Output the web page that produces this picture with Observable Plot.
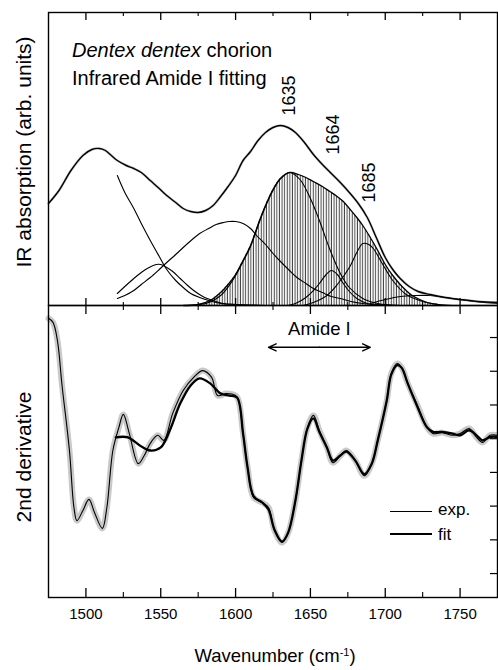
<!DOCTYPE html>
<html><head><meta charset="utf-8">
<script src="https://cdn.jsdelivr.net/npm/d3@7"></script>
<script src="https://cdn.jsdelivr.net/npm/@observablehq/plot@0.6"></script>
<style>
body{margin:0;background:#fff;}
#chart{position:relative;width:498px;height:670px;font-family:"Liberation Sans",Arial,Helvetica,sans-serif;color:#000;overflow:hidden;}
#top,#bottom{position:absolute;left:0;}
#top{top:0;}
#bottom{top:305px;}
.lbl{position:absolute;white-space:nowrap;line-height:1;}
.c{transform:translate(-50%,-50%);}
.legline{position:absolute;background:#000;}
</style></head><body>
<svg width="0" height="0" style="position:absolute">
<defs><pattern id="hatch" patternUnits="userSpaceOnUse" width="2.6" height="10"><line x1="1.2" y1="0" x2="1.2" y2="10" stroke="#333" stroke-width="0.9"/></pattern></defs></svg>
<div id="chart">
  <div id="top"></div>
  <div id="bottom"></div>
  <div class="lbl" style="left:72px;top:40px;font-size:20px;"><i>Dentex dentex</i> chorion</div>
  <div class="lbl" style="left:72px;top:68px;font-size:20px;">Infrared Amide I fitting</div>
  <div class="lbl" style="left:23px;top:152px;font-size:21px;transform:translate(-50%,-50%) rotate(-90deg);">IR absorption (arb. units)</div>
  <div class="lbl" style="left:23px;top:457px;font-size:21px;transform:translate(-50%,-50%) rotate(-90deg);">2nd derivative</div>
  <div class="lbl c" style="left:275px;top:656px;font-size:18.5px;">Wavenumber (cm<sup style="font-size:11px;vertical-align:0.55em;line-height:0">-1</sup>)</div>
  <div class="legline" style="left:390px;top:510.5px;width:42px;height:1.2px;"></div>
  <div class="legline" style="left:390px;top:533px;width:42px;height:2.4px;"></div>
  <div class="lbl" style="left:438px;top:501px;font-size:17px;">exp.</div>
  <div class="lbl" style="left:438px;top:525.5px;font-size:17px;">fit</div>
</div>
<script>
// ---- axis ticks ----
const wnMajor = [1500, 1550, 1600, 1650, 1700, 1750];
const wnMinor = [1525, 1575, 1625, 1675, 1725];
const derivTicks = [0, 1, 2, 3, 4, 5, 6, 7];

// ---- top panel: IR absorption (arb. units) ----
const absorptionExp = [[1475,1.02],[1482,1.15],[1490,1.35],[1498,1.50],[1504,1.56],[1509,1.57],[1513,1.55],[1517,1.50],[1521,1.45],[1527,1.40],[1532,1.37],[1537,1.33],[1543,1.25],[1549,1.17],[1554,1.10],[1560,1.03],[1565,0.97],[1570,0.94],[1575,0.93],[1580,0.95],[1585,1.00],[1590,1.09],[1595,1.19],[1600,1.30],[1605,1.45],[1610,1.54],[1615,1.65],[1620,1.73],[1625,1.78],[1630,1.80],[1635,1.78],[1640,1.73],[1646,1.63],[1652,1.51],[1658,1.41],[1664,1.32],[1670,1.23],[1676,1.13],[1682,1.02],[1688,0.88],[1694,0.68],[1700,0.48],[1705,0.36],[1710,0.27],[1716,0.19],[1722,0.14],[1730,0.11],[1740,0.08],[1750,0.06],[1762,0.04],[1775,0.03]];
const amideEnvelope = [[1565,0],[1575,0.01],[1583,0.05],[1590,0.13],[1595,0.21],[1600,0.31],[1605,0.45],[1610,0.60],[1616,0.85],[1620,1.00],[1625,1.16],[1630,1.27],[1636,1.33],[1642,1.31],[1647,1.28],[1652,1.24],[1658,1.19],[1663,1.14],[1667,1.10],[1672,1.04],[1676,0.97],[1681,0.88],[1685,0.80],[1690,0.68],[1695,0.55],[1700,0.41],[1705,0.30],[1710,0.21],[1714,0.15],[1718,0.10],[1723,0.06],[1728,0.03],[1735,0.01]];
const band1510 = [[1521,1.30],[1526,1.13],[1532,0.97],[1537,0.82],[1543,0.65],[1549,0.49],[1554,0.36],[1560,0.25],[1565,0.18],[1570,0.12],[1576,0.08],[1582,0.05],[1590,0.02],[1600,0.01],[1620,0]];
const band1549 = [[1521,0.12],[1526,0.19],[1532,0.27],[1537,0.33],[1541,0.37],[1547,0.41],[1550,0.41],[1554,0.38],[1558,0.34],[1563,0.27],[1568,0.20],[1572,0.15],[1577,0.10],[1581,0.07],[1587,0.04],[1592,0.02],[1600,0.01],[1615,0]];
const band1596 = [[1521,0.07],[1526,0.10],[1532,0.15],[1537,0.21],[1543,0.28],[1549,0.36],[1554,0.43],[1560,0.51],[1565,0.58],[1571,0.66],[1576,0.72],[1582,0.77],[1587,0.81],[1592,0.83],[1596,0.84],[1600,0.84],[1605,0.82],[1610,0.77],[1614,0.70],[1620,0.61],[1625,0.52],[1630,0.44],[1636,0.35],[1641,0.28],[1647,0.22],[1652,0.17],[1658,0.13],[1664,0.09],[1670,0.07],[1677,0.04],[1685,0.02],[1695,0.01],[1710,0]];
const band1635 = [[1565,0],[1580,0.02],[1590,0.10],[1598,0.25],[1605,0.44],[1610,0.59],[1616,0.84],[1620,0.99],[1625,1.15],[1630,1.27],[1636,1.33],[1643,1.26],[1650,1.07],[1656,0.85],[1663,0.56],[1670,0.32],[1676,0.18],[1685,0.07],[1695,0.02],[1710,0]];
const band1664 = [[1635,0],[1640,0.02],[1647,0.08],[1652,0.15],[1656,0.22],[1660,0.30],[1664,0.35],[1668,0.31],[1672,0.22],[1676,0.14],[1681,0.07],[1688,0.02],[1695,0]];
const band1685 = [[1645,0],[1652,0.03],[1661,0.10],[1668,0.21],[1676,0.38],[1681,0.53],[1685,0.62],[1689,0.61],[1692,0.57],[1698,0.42],[1705,0.25],[1714,0.11],[1725,0.04],[1736,0.01],[1745,0]];
const band1730 = [[1690,0.02],[1700,0.06],[1710,0.09],[1720,0.10],[1730,0.10],[1740,0.08],[1750,0.06],[1760,0.04],[1775,0.02]];
const peakLabels = ["1635", "1664", "1685"];
const peakLabelX = [1636, 1665, 1689];
const peakLabelY = [2.10, 1.71, 1.23];

// ---- bottom panel: 2nd derivative (arb. units) ----
const derivExp = [[1475,7.57],[1478,7.45],[1481,6.9],[1484,5.6],[1489,3.65],[1492,1.96],[1494,1.57],[1498,1.87],[1502,2.2],[1506,1.78],[1511,1.34],[1514,1.96],[1518,3.65],[1522,4.33],[1525,4.72],[1529,4.15],[1535,3.26],[1539,3.5],[1543,3.86],[1548,4.1],[1552,3.95],[1558,4.75],[1565,5.43],[1572,5.82],[1578,6.02],[1584,5.82],[1588,5.28],[1594,5.34],[1600,5.28],[1602,5.13],[1605,4.15],[1608,3.15],[1612,2.26],[1618,2.1],[1622,1.96],[1626,1.28],[1631,0.92],[1635,1.19],[1640,2.17],[1644,3.35],[1648,4.33],[1652,4.69],[1656,4.24],[1661,3.74],[1665,3.29],[1670,3.5],[1674,3.65],[1680,3.35],[1686,2.9],[1691,3.26],[1695,3.95],[1701,5.13],[1704,5.93],[1708,6.23],[1711,6.11],[1715,5.64],[1721,5.04],[1728,4.33],[1732,4.15],[1738,4.18],[1745,4.1],[1750,4.15],[1756,4.3],[1761,4.04],[1765,3.89],[1770,4.1],[1775,4.1]];
const derivFit = [[1520,4.04],[1528,4.04],[1536,3.8],[1543,3.65],[1550,3.74],[1556,4.24],[1563,5.04],[1570,5.58],[1576,5.79],[1583,5.64],[1590,5.34],[1596,5.28],[1601,5.22],[1605,4.15],[1608,3.15],[1612,2.3],[1618,2.1],[1622,1.9],[1626,1.3],[1631,0.95],[1635,1.2],[1640,2.17],[1644,3.35],[1648,4.3],[1652,4.6],[1656,4.2],[1661,3.74],[1665,3.35],[1670,3.5],[1674,3.62],[1680,3.35],[1686,2.95],[1691,3.26],[1695,3.95],[1701,5.13],[1704,5.9],[1708,6.18],[1711,6.1],[1715,5.64],[1721,5.0],[1728,4.33],[1732,4.2],[1738,4.2],[1745,4.15],[1750,4.1],[1756,4.25],[1761,4.1],[1765,3.95],[1770,4.05],[1775,4.05]];
const amideRange = [1622, 1690];
const amideLabel = "Amide I";
const amideLevel = 6.71;
const amideLabelLevel = 7.24;

const X = d => d[0], Y = d => d[1];
const curve = "catmull-rom";
const xDomain = [1475, 1775];

const topInnerH = 293, botInnerH = 292, innerW = 449;

const topPlot = Plot.plot({
  width: 498, height: 305,
  marginTop: 12, marginBottom: 0, marginLeft: 48, marginRight: 1,
  style: {background: "transparent", overflow: "visible", fontFamily: "Liberation Sans, Arial, sans-serif"},
  x: {domain: xDomain, axis: null},
  y: {domain: [0, 2.93], axis: null},
  marks: [
    Plot.areaY(amideEnvelope, {x: X, y: Y, fill: "url(#hatch)", curve}),
    Plot.line(amideEnvelope, {x: X, y: Y, stroke: "#000", strokeWidth: 1.3, curve}),
    ...[band1510, band1549, band1596, band1635, band1664, band1685, band1730].map(b =>
      Plot.line(b, {x: X, y: Y, stroke: "#000", strokeWidth: 1.1, curve})),
    Plot.line(absorptionExp, {x: X, y: Y, stroke: "#888", strokeWidth: 2.6, strokeOpacity: 0.4, curve}),
    Plot.line(absorptionExp, {x: X, y: Y, stroke: "#000", strokeWidth: 1.4, curve}),
    Plot.text(peakLabels, {x: (d, i) => peakLabelX[i], y: (d, i) => peakLabelY[i], text: d => d, rotate: -90, fontSize: 18, fill: "#000"}),
    Plot.tickX(wnMajor, {x: d => d, insetBottom: topInnerH - 8, stroke: "#000", strokeWidth: 1.3}),
    Plot.tickX(wnMinor, {x: d => d, insetBottom: topInnerH - 4, stroke: "#000", strokeWidth: 1.1}),
    Plot.tickX(wnMajor, {x: d => d, insetTop: topInnerH - 7, stroke: "#000", strokeWidth: 1.3}),
    Plot.tickX(wnMinor, {x: d => d, insetTop: topInnerH - 3, stroke: "#000", strokeWidth: 1.1}),
    Plot.frame({stroke: "#000", strokeWidth: 1.4})
  ]
});
document.getElementById("top").append(topPlot);

const mid = (amideRange[0] + amideRange[1]) / 2;
const botPlot = Plot.plot({
  width: 498, height: 365,
  marginTop: 0, marginBottom: 73, marginLeft: 48, marginRight: 1,
  style: {background: "transparent", overflow: "visible", fontFamily: "Liberation Sans, Arial, sans-serif", fontSize: "15px", color: "#000"},
  x: {domain: xDomain, axis: null},
  y: {domain: [-0.71, 7.95], axis: null},
  marks: [
    Plot.line(derivExp, {x: X, y: Y, stroke: "#888", strokeWidth: 6, strokeOpacity: 0.45, curve}),
    Plot.line(derivExp, {x: X, y: Y, stroke: "#000", strokeWidth: 1.1, curve}),
    Plot.line(derivFit, {x: X, y: Y, stroke: "#000", strokeWidth: 2.3, curve}),
    Plot.arrow(amideRange, {x1: mid, y1: amideLevel, x2: d => d, y2: amideLevel, stroke: "#000", strokeWidth: 1.4, headLength: 9, headAngle: 50}),
    Plot.text([amideLabel], {x: mid, y: amideLabelLevel, text: d => d, fontSize: 18.5, fill: "#000"}),
    Plot.tickX(wnMajor, {x: d => d, insetBottom: botInnerH - 9, stroke: "#000", strokeWidth: 1.3}),
    Plot.tickX(wnMinor, {x: d => d, insetBottom: botInnerH - 5, stroke: "#000", strokeWidth: 1.1}),
    Plot.tickX(wnMajor, {x: d => d, insetTop: botInnerH - 9, stroke: "#000", strokeWidth: 1.3}),
    Plot.tickX(wnMinor, {x: d => d, insetTop: botInnerH - 5, stroke: "#000", strokeWidth: 1.1}),
    Plot.tickY(derivTicks, {y: d => d, insetLeft: innerW - 7, stroke: "#000", strokeWidth: 1.2}),
    Plot.frame({stroke: "#000", strokeWidth: 1.4}),
    Plot.axisX(wnMajor, {anchor: "bottom", tickSize: 0, tickPadding: 11, fontSize: 15, fill: "#000", tickFormat: d => String(d)})
  ]
});
document.getElementById("bottom").append(botPlot);
</script>
</body></html>
